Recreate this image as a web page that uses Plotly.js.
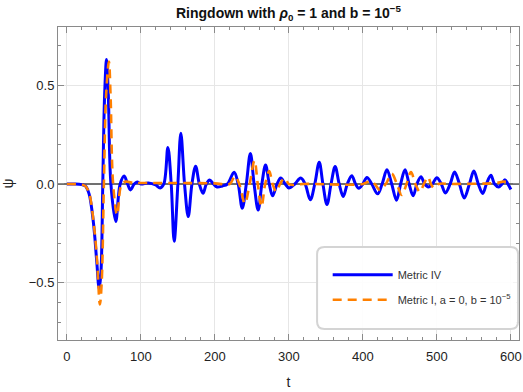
<!DOCTYPE html>
<html>
<head>
<meta charset="utf-8">
<script src="https://cdn.plot.ly/plotly-3.0.1.min.js"></script>
<style>
  html, body { margin: 0; padding: 0; background: #fff; }
  #plot { width: 523px; height: 392px; }
</style>
</head>
<body>
<div id="plot"></div>
<script>
// Metric IV (blue, solid): t and psi
var t_iv = [0, 10, 20, 25, 30, 33, 36, 38, 40.5, 43.6, 46, 48.5, 51, 53.6, 56, 59.5, 66, 72, 77.5, 82, 86, 91, 95, 100, 110, 120,
  126, 131, 136.5, 141, 145, 150, 154, 159, 164, 169, 174, 179, 184, 188.5, 193, 198, 203, 210, 217,
  226, 231.5, 237, 242.5, 248, 253, 258.5, 263.5, 268.5, 273.5, 278, 284, 289, 295, 300, 308, 316, 322,
  329, 335, 341, 346, 351.5, 357, 362.5, 368, 373.5, 379, 385, 390, 394.5, 400, 405.5, 412, 420, 426,
  432.5, 439, 445.5, 451, 457, 462.5, 468, 473, 478.5, 483.5, 488.5, 494, 500, 506, 511.5, 518, 524,
  530.5, 537, 544, 550, 556, 562, 567, 573, 578, 583.5, 588, 592, 596, 600];
var psi_iv = [0, 0, -0.003, -0.01, -0.05, -0.11, -0.2, -0.28, -0.4, -0.53, -0.45, 0, 0.45, 0.63, 0.45, 0, -0.19, 0, 0.04, 0, -0.03, 0, 0.01, 0, 0.005, -0.005,
  -0.02, 0, 0.185, 0, -0.29, 0, 0.257, 0, -0.165, 0, 0.09, 0, -0.047, 0, 0.02, 0, -0.015, -0.01, 0,
  0.06, 0, -0.123, 0, 0.155, 0, -0.132, 0, 0.096, 0, -0.06, 0, 0.03, 0, -0.02, 0, 0.03, 0,
  -0.08, 0, 0.11, 0, -0.104, 0, 0.088, 0, -0.063, 0, 0.042, 0, -0.022, 0, 0.033, 0, -0.05, 0,
  0.072, 0, -0.082, 0, 0.072, 0, -0.06, 0, 0.037, 0, -0.015, 0, 0.032, 0, -0.045, 0, 0.061,
  0, -0.071, 0, 0.066, 0, -0.048, 0, 0.044, 0, -0.015, 0, 0.022, 0, -0.028];

// Metric I, a = 0, b = 1e-5 (orange, dashed)
var t_i = [0, 20, 25, 30, 33, 36, 38.5, 41, 44.6, 47, 50, 53, 56.8, 59, 62.5, 68, 74, 80, 90, 100, 140, 200, 220,
  227, 233, 240.5, 247, 253.5, 258, 263, 268, 273.5, 278, 283, 288, 294, 300, 305, 320,
  400, 410, 416, 423, 431, 439, 446, 452.5, 459, 465, 471, 477, 482.5, 488, 492, 496, 502, 520, 580, 590, 600];
var psi_i = [0, -0.003, -0.01, -0.045, -0.1, -0.19, -0.28, -0.4, -0.61, -0.5, 0, 0.45, 0.62, 0.45, 0, -0.157, 0, 0.012, 0.005, 0.005, 0.005, 0.003, 0,
  0.04, 0, -0.098, 0, 0.118, 0, -0.115, 0, 0.065, 0, -0.039, 0, 0.029, 0, -0.005, 0,
  0, 0.015, 0, -0.03, 0, 0.052, 0, -0.056, 0, 0.06, 0, -0.04, 0, 0.035, 0, -0.02, 0, 0, 0.005, 0.012, 0.005];

var name_iv = 'Metric IV';
var name_i = 'Metric I, a = 0, b = 10<sup>\u22125</sup>';

var trace1 = {
  x: t_iv,
  y: psi_iv,
  name: name_iv,
  mode: 'lines',
  type: 'scatter',
  legendgroup: 'a',
  line: {color: '#0000ff', width: 3, shape: 'spline', smoothing: 1}
};

var trace2 = {
  x: t_i,
  y: psi_i,
  name: name_i,
  mode: 'lines',
  type: 'scatter',
  legendgroup: 'b',
  line: {color: '#ff8000', width: 2.6, dash: '9px,6px', shape: 'spline', smoothing: 1}
};

var frame = '#8a8a8a';
var font = 'Liberation Sans, Arial, sans-serif';

// legend box with round corners (paper coords)
var bx0 = 0.562, bx1 = 0.998, by0 = 0.035, by1 = 0.297, rx = 0.016, ry = 0.023;
var boxPath = 'M' + (bx0 + rx) + ',' + by1 + ' L' + (bx1 - rx) + ',' + by1 +
  ' Q' + bx1 + ',' + by1 + ' ' + bx1 + ',' + (by1 - ry) +
  ' L' + bx1 + ',' + (by0 + ry) + ' Q' + bx1 + ',' + by0 + ' ' + (bx1 - rx) + ',' + by0 +
  ' L' + (bx0 + rx) + ',' + by0 + ' Q' + bx0 + ',' + by0 + ' ' + bx0 + ',' + (by0 + ry) +
  ' L' + bx0 + ',' + (by1 - ry) + ' Q' + bx0 + ',' + by1 + ' ' + (bx0 + rx) + ',' + by1 + ' Z';

var layout = {
  width: 523,
  height: 392,
  margin: {l: 58, r: 4, t: 27, b: 52},
  paper_bgcolor: '#fff',
  plot_bgcolor: '#fff',
  font: {family: font, size: 13, color: '#222'},
  title: {
    text: 'Ringdown with <i>\u03c1</i><sub>0</sub> = 1 and b = 10<sup>\u22125</sup>',
    font: {family: font, size: 14, color: '#111', weight: 'bold'},
    x: 0.5, xref: 'paper', y: 0.967, yref: 'container', yanchor: 'middle'
  },
  xaxis: {
    range: [-12, 611],
    tickvals: [0, 100, 200, 300, 400, 500, 600],
    ticks: 'inside', ticklen: 6, tickcolor: frame,
    minor: {dtick: 20, ticks: 'inside', ticklen: 3, tickcolor: frame, showgrid: false},
    showline: true, linecolor: frame, linewidth: 1, mirror: 'ticks',
    showgrid: true, gridcolor: '#e6e6e6',
    zeroline: false,
    ticklabelstandoff: 4,
    title: {text: 't', font: {family: font, size: 14, color: '#222'}, standoff: 14}
  },
  yaxis: {
    range: [-0.79, 0.795],
    tickvals: [-0.5, 0, 0.5],
    tickformat: '.1f',
    ticks: 'inside', ticklen: 6, tickcolor: frame,
    minor: {dtick: 0.1, ticks: 'inside', ticklen: 3, tickcolor: frame, showgrid: false},
    showline: true, linecolor: frame, linewidth: 1, mirror: 'ticks',
    showgrid: true, gridcolor: '#e6e6e6',
    zeroline: true, zerolinecolor: '#707070', zerolinewidth: 1.2,
    title: {text: '\u03c8', font: {family: font, size: 14, color: '#222'}, standoff: 12}
  },
  shapes: [{
    type: 'path', xref: 'paper', yref: 'paper', path: boxPath,
    line: {color: '#d4d4d4', width: 2}, fillcolor: 'rgba(255,255,255,0.9)', layer: 'above'
  }],
  legend: {
    x: 0.585, y: 0.255, xanchor: 'left', yanchor: 'top',
    bgcolor: 'rgba(0,0,0,0)', borderwidth: 0,
    font: {family: font, size: 11, color: '#333'},
    traceorder: 'grouped', tracegroupgap: 6,
    itemwidth: 60
  },
  showlegend: true
};

Plotly.newPlot('plot', [trace1, trace2], layout, {displayModeBar: false, staticPlot: true});
</script>
</body>
</html>
